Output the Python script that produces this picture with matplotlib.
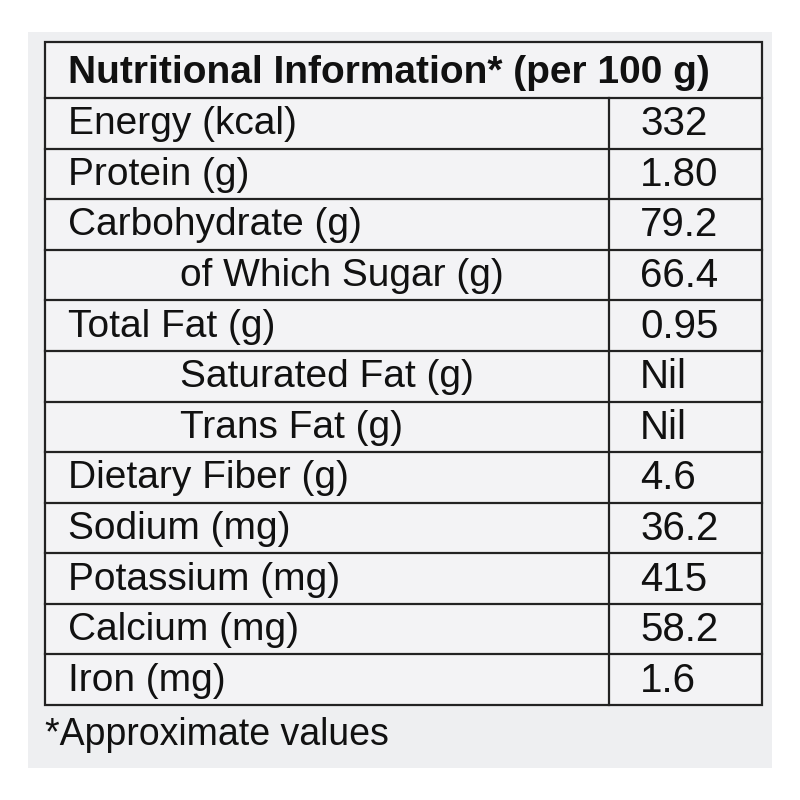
import matplotlib.pyplot as plt
from matplotlib.patches import Rectangle
from matplotlib import font_manager

# ============================================================
# DATA
# ============================================================
TITLE = "Nutritional Information* (per 100 g)"
NUTRIENTS = ["Energy (kcal)", "Protein (g)", "Carbohydrate (g)", "of Which Sugar (g)",
             "Total Fat (g)", "Saturated Fat (g)", "Trans Fat (g)", "Dietary Fiber (g)",
             "Sodium (mg)", "Potassium (mg)", "Calcium (mg)", "Iron (mg)"]
VALUES = ["332", "1.80", "79.2", "66.4", "0.95", "Nil", "Nil", "4.6",
          "36.2", "415", "58.2", "1.6"]
INDENTED = [False, False, False, True, False, True, True, False,
            False, False, False, False]
FOOTNOTE = "*Approximate values"

# ============================================================
# Font
# ============================================================
names = {f.name for f in font_manager.fontManager.ttflist}
family = ["Liberation Sans Narrow"] if "Liberation Sans Narrow" in names else ["Liberation Sans", "DejaVu Sans"]

# ============================================================
# Plot (pixel coordinates)
# ============================================================
fig = plt.figure(figsize=(8, 8), dpi=100)
ax = fig.add_axes([0, 0, 1, 1])
ax.set_xlim(0, 800)
ax.set_ylim(800, 0)
ax.axis("off")

bg = "#eeeff1"
ax.add_patch(Rectangle((28, 32), 744, 736, facecolor=bg, edgecolor="none"))

left, right, mid = 45, 762, 609
top, head_bot, bottom = 42, 98, 705
row_h = (bottom - head_bot) / len(NUTRIENTS)

ax.add_patch(Rectangle((left, top), right - left, bottom - top,
                       facecolor="#f3f3f5", edgecolor="#222222", lw=1.6))
ax.plot([left, right], [head_bot, head_bot], color="#222222", lw=1.6)
ax.plot([mid, mid], [head_bot, bottom], color="#222222", lw=1.6)

ax.text(68, (top + head_bot) / 2 + 3, TITLE, fontsize=28, fontweight="bold",
        family=family, va="center", ha="left", color="#111111")

for i, (name, val, ind) in enumerate(zip(NUTRIENTS, VALUES, INDENTED)):
    y0 = head_bot + i * row_h
    if i > 0:
        ax.plot([left, right], [y0, y0], color="#222222", lw=1.6)
    yc = y0 + row_h / 2 + 1
    ax.text(180 if ind else 68, yc, name, fontsize=28, family=family,
            va="center", ha="left", color="#111111")
    ax.text(640, yc, val, fontsize=29, family=family,
            va="center", ha="left", color="#111111")

ax.text(45, 735, FOOTNOTE, fontsize=27, family=family,
        va="center", ha="left", color="#111111")

fig.savefig("out.png", dpi=100, facecolor="white")
